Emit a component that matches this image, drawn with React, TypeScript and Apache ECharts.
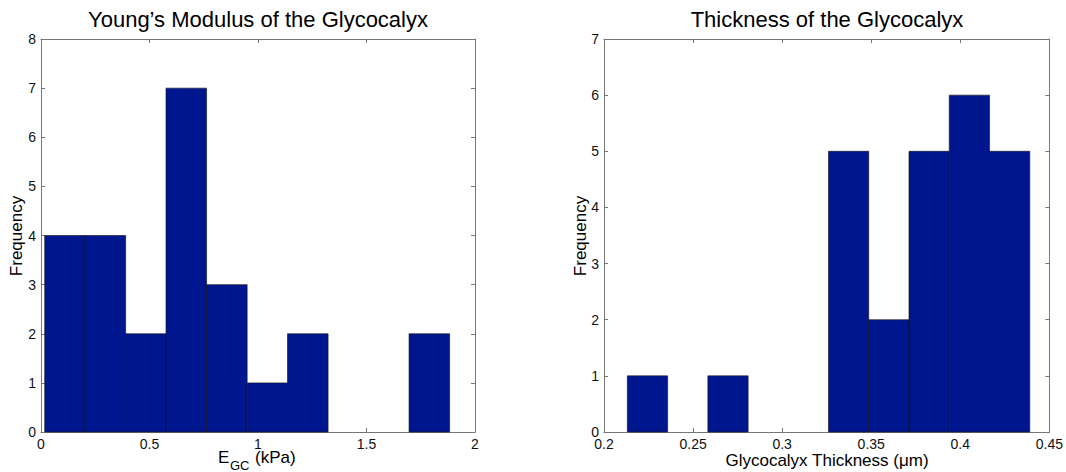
import React, { useEffect, useRef } from "react";
import * as echarts from "echarts";

// Young's modulus histogram (kPa): bin edges and counts
const modulusEdges = [0.017, 0.203, 0.39, 0.576, 0.763, 0.95, 1.136, 1.323, 1.51, 1.696, 1.883];
const modulusCounts = [4, 4, 2, 7, 3, 1, 2, 0, 0, 2];
const modulusXTicks = { min: 0, max: 2, interval: 0.5 };
const modulusYTicks = { min: 0, max: 8, interval: 1 };

// Thickness histogram (um): bin edges and counts
const thicknessEdges = [0.2131, 0.2357, 0.2583, 0.2809, 0.3034, 0.326, 0.3486, 0.3712, 0.3938, 0.4164, 0.439];
const thicknessCounts = [1, 0, 1, 0, 0, 5, 2, 5, 6, 5];
const thicknessXTicks = { min: 0.2, max: 0.45, interval: 0.05 };
const thicknessYTicks = { min: 0, max: 7, interval: 1 };

const titles = ["Young\u2019s Modulus of the Glycocalyx", "Thickness of the Glycocalyx"];
const yName = "Frequency";
const thicknessXName = "Glycocalyx Thickness (\u03bcm)";

const FONT = "'Liberation Sans', Arial, Helvetica, sans-serif";
const AXIS_COLOR = "#777";
const BAR_COLOR = "#00168f";

function toBins(edges: number[], counts: number[]) {
  return counts.map((c, i) => [edges[i], edges[i + 1], c]);
}

const renderBin = (params: any, api: any) => {
  const x0 = api.value(0);
  const x1 = api.value(1);
  const c = api.value(2);
  if (!c) return null;
  const p0 = api.coord([x0, 0]);
  const p1 = api.coord([x1, c]);
  return {
    type: "rect",
    shape: { x: p0[0], y: p1[1], width: p1[0] - p0[0], height: p0[1] - p1[1] },
    style: { fill: BAR_COLOR, stroke: "#111", lineWidth: 0.6 },
  };
};

function xAxes(gridIndex: number, t: { min: number; max: number; interval: number }) {
  const base = {
    gridIndex,
    type: "value",
    min: t.min,
    max: t.max,
    interval: t.interval,
    splitLine: { show: false },
    axisLine: { show: true, onZero: false, lineStyle: { color: AXIS_COLOR, width: 1 } },
    axisTick: { show: true, inside: true, length: 4, lineStyle: { color: AXIS_COLOR } },
  };
  return [
    {
      ...base,
      position: "bottom",
      axisLabel: {
        color: "#111",
        fontSize: 14,
        fontFamily: FONT,
        margin: 5,
        formatter: (v: number) => String(+v.toFixed(2)),
      },
    },
    { ...base, position: "top", axisLabel: { show: false } },
  ];
}

function yAxes(gridIndex: number, t: { min: number; max: number; interval: number }) {
  const base = {
    gridIndex,
    type: "value",
    min: t.min,
    max: t.max,
    interval: t.interval,
    splitLine: { show: false },
    axisLine: { show: true, onZero: false, lineStyle: { color: AXIS_COLOR, width: 1 } },
    axisTick: { show: true, inside: true, length: 4, lineStyle: { color: AXIS_COLOR } },
  };
  return [
    {
      ...base,
      position: "left",
      axisLabel: { color: "#111", fontSize: 14, fontFamily: FONT, margin: 5 },
    },
    { ...base, position: "right", axisLabel: { show: false } },
  ];
}

export default function App() {
  const ref = useRef<HTMLDivElement>(null);

  useEffect(() => {
    if (!ref.current) return;
    const chart = echarts.init(ref.current, undefined, { renderer: "svg" });
    const txt = (text: string, x: number, y: number, fontSize: number, extra: any = {}) => ({
      type: "text",
      x,
      y,
      ...extra,
      style: {
        text,
        fontSize,
        fontFamily: FONT,
        fill: "#000",
        align: extra.align || "center",
        verticalAlign: "middle",
      },
    });
    chart.setOption({
      animation: false,
      backgroundColor: "#fff",
      grid: [
        { left: 41, top: 39, width: 434, height: 393 },
        { left: 604, top: 39, width: 446, height: 393 },
      ],
      xAxis: [...xAxes(0, modulusXTicks), ...xAxes(1, thicknessXTicks)],
      yAxis: [...yAxes(0, modulusYTicks), ...yAxes(1, thicknessYTicks)],
      series: [
        {
          type: "custom",
          xAxisIndex: 0,
          yAxisIndex: 0,
          renderItem: renderBin,
          encode: { x: [0, 1], y: 2 },
          data: toBins(modulusEdges, modulusCounts),
        },
        {
          type: "custom",
          xAxisIndex: 2,
          yAxisIndex: 2,
          renderItem: renderBin,
          encode: { x: [0, 1], y: 2 },
          data: toBins(thicknessEdges, thicknessCounts),
        },
      ],
      graphic: [
        txt(titles[0], 258, 19, 22),
        txt(titles[1], 827, 19, 22),
        txt(yName, 16.5, 236, 17, { rotation: Math.PI / 2 }),
        txt(yName, 580, 236, 17, { rotation: Math.PI / 2 }),
        txt("E", 218, 457, 17, { align: "left" }),
        txt("GC", 230, 465, 13, { align: "left" }),
        txt("(kPa)", 255, 457, 17, { align: "left" }),
        txt(thicknessXName, 827, 460, 17),
      ],
    });
    return () => chart.dispose();
  }, []);

  return (
    <div
      ref={ref}
      style={{ position: "fixed", left: 0, top: 0, width: 1066, height: 472, background: "#fff" }}
    />
  );
}
